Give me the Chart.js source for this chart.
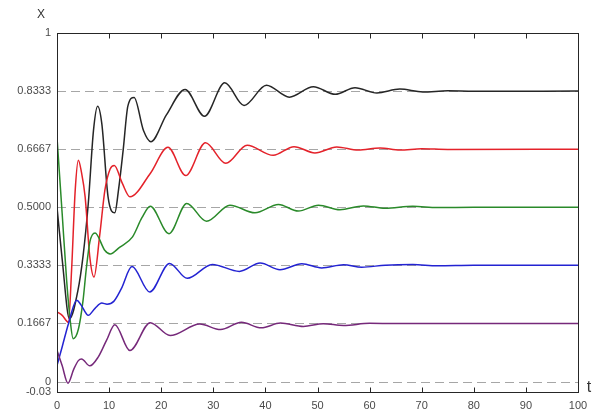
<!DOCTYPE html>
<html>
<head>
<meta charset="utf-8">
<script src="https://cdn.jsdelivr.net/npm/chart.js@4"></script>
<style>
  html, body { margin: 0; padding: 0; background: #fff; }
</style>
</head>
<body>
<canvas id="chart" width="595" height="412"></canvas>
<script>
// values
const tBlack = [0, 1, 2.4, 4, 5, 6, 7, 7.8, 8.6, 9.8, 11.1, 11.8, 12.7, 13.6, 14.8, 16.6, 18, 21, 24.6, 28.3, 32.2, 35.9, 40.2, 44.6, 49.2, 53.4, 57.2, 61.4, 65.8, 70.2, 75, 80, 100];
const xBlack = [0.5, 0.35, 0.18, 0.26, 0.36, 0.51, 0.72, 0.79, 0.74, 0.53, 0.484, 0.549, 0.664, 0.79, 0.815, 0.72, 0.688, 0.765, 0.838, 0.761, 0.857, 0.792, 0.85, 0.816, 0.846, 0.824, 0.843, 0.828, 0.839, 0.831, 0.834, 0.833, 0.8333];

const tRed = [0, 1, 2.2, 2.8, 3.5, 4.1, 4.7, 5.4, 6.3, 7.1, 8.2, 9.2, 10.2, 11, 12.5, 14, 17.9, 21.3, 24.7, 28.5, 32.4, 36.5, 41.5, 45.5, 49.5, 53.7, 57.8, 62, 65.8, 70, 75, 100];
const xRed = [0.2, 0.19, 0.17, 0.32, 0.55, 0.635, 0.6, 0.53, 0.357, 0.30, 0.42, 0.55, 0.61, 0.62, 0.57, 0.53, 0.597, 0.672, 0.591, 0.685, 0.626, 0.678, 0.649, 0.674, 0.656, 0.673, 0.664, 0.670, 0.664, 0.668, 0.666, 0.6667];

const tGreen = [0, 1, 1.85, 2.5, 3.1, 4.1, 5, 5.6, 6.3, 7.3, 9.2, 10.2, 12, 14.5, 16.3, 17.9, 21.5, 24.9, 28.7, 33.2, 38, 42.5, 46.3, 50.2, 54.3, 58.8, 63, 68.3, 73, 80, 100];
const xGreen = [0.70, 0.48, 0.29, 0.18, 0.123, 0.15, 0.233, 0.32, 0.40, 0.426, 0.376, 0.366, 0.385, 0.415, 0.47, 0.503, 0.424, 0.511, 0.46, 0.506, 0.484, 0.508, 0.489, 0.506, 0.493, 0.504, 0.497, 0.503, 0.499, 0.5, 0.5];

const tBlue = [0, 1, 2.2, 3.8, 4.6, 6, 7.3, 8.6, 9.6, 10.9, 12.3, 14.4, 17.8, 21.6, 25, 29.8, 35, 39, 42.8, 47, 50.8, 55, 58.5, 63, 68.3, 73, 80, 100];
const xBlue = [0.046, 0.10, 0.166, 0.233, 0.22, 0.19, 0.21, 0.225, 0.222, 0.23, 0.265, 0.33, 0.257, 0.339, 0.296, 0.336, 0.316, 0.34, 0.321, 0.338, 0.326, 0.335, 0.328, 0.334, 0.336, 0.332, 0.3335, 0.3333];

const tPurple = [0, 1, 2.1, 3.2, 4.1, 4.7, 6.3, 7.9, 9.5, 11.1, 14, 17.9, 21.7, 27.4, 31.4, 35.4, 39.2, 42.9, 47.3, 51.1, 55, 60, 65, 100];
const xPurple = [0.09, 0.045, -0.005, 0.035, 0.06, 0.065, 0.045, 0.07, 0.118, 0.163, 0.089, 0.169, 0.132, 0.165, 0.149, 0.17, 0.154, 0.168, 0.158, 0.166, 0.161, 0.167, 0.1665, 0.1667];

const yTickValues = [-0.03, 0, 0.1667, 0.3333, 0.5, 0.6667, 0.8333, 1];
const yTickLabels = ['-0.03', '0', '0.1667', '0.3333', '0.5000', '0.6667', '0.8333', '1'];
const refLevels = [0, 0.1667, 0.3333, 0.5, 0.6667, 0.8333];
const xTickValues = [0, 10, 20, 30, 40, 50, 60, 70, 80, 90, 100];

const FONT = "'Liberation Sans', Arial, Helvetica, sans-serif";

function pts(ts, vs) {
  return ts.map((t, i) => ({ x: t, y: vs[i] }));
}

function series(ts, vs, color) {
  return {
    data: pts(ts, vs),
    borderColor: color,
    borderWidth: 1.5,
    pointRadius: 0,
    fill: false,
    cubicInterpolationMode: 'monotone',
  };
}

const framePlugin = {
  id: 'frame',
  beforeDatasetsDraw(chart) {
    const { ctx, chartArea: a, scales: { y } } = chart;
    ctx.save();
    ctx.strokeStyle = '#a6a6a6';
    ctx.lineWidth = 1;
    ctx.setLineDash([9, 5]);
    refLevels.forEach((v) => {
      const py = Math.round(y.getPixelForValue(v)) + 0.5;
      ctx.beginPath();
      ctx.moveTo(a.left, py);
      ctx.lineTo(a.right, py);
      ctx.stroke();
    });
    ctx.restore();
  },
  afterDatasetsDraw(chart) {
    const { ctx, chartArea: a, scales: { x } } = chart;
    ctx.save();
    ctx.strokeStyle = '#262626';
    ctx.lineWidth = 1;
    const l = Math.round(a.left) + 0.5;
    const r = Math.round(a.right) + 0.5;
    const t = Math.round(a.top) + 0.5;
    const b = Math.round(a.bottom) + 0.5;
    ctx.strokeRect(l, t, r - l, b - t);
    // inward tick marks on top and bottom
    xTickValues.slice(1, -1).forEach((v) => {
      const px = Math.round(x.getPixelForValue(v)) + 0.5;
      ctx.beginPath();
      ctx.moveTo(px, b);
      ctx.lineTo(px, b - 5);
      ctx.moveTo(px, t);
      ctx.lineTo(px, t + 5);
      ctx.stroke();
    });
    // axis names
    ctx.fillStyle = '#333';
    ctx.textAlign = 'center';
    ctx.textBaseline = 'middle';
    ctx.font = '12px ' + FONT;
    ctx.fillText('X', 41, 15);
    ctx.font = '16px ' + FONT;
    ctx.fillText('t', 589, 388);
    ctx.restore();
  },
};

new Chart(document.getElementById('chart'), {
  type: 'line',
  data: {
    datasets: [
      series(tPurple, xPurple, '#76297a'),
      series(tBlue, xBlue, '#2323d2'),
      series(tGreen, xGreen, '#2a8a2a'),
      series(tRed, xRed, '#e4222a'),
      series(tBlack, xBlack, '#262626'),
    ],
  },
  options: {
    responsive: false,
    animation: false,
    layout: { padding: { left: 0, right: 17, top: 33, bottom: 0 } },
    plugins: { legend: { display: false }, tooltip: { enabled: false } },
    scales: {
      x: {
        type: 'linear',
        min: 0,
        max: 100,
        grid: { display: false, drawTicks: false },
        border: { display: false },
        afterBuildTicks: (axis) => { axis.ticks = xTickValues.map((v) => ({ value: v })); },
        afterFit: (scale) => { scale.height = 20; },
        ticks: {
          autoSkip: false,
          maxRotation: 0,
          padding: 7,
          color: '#4a4a4a',
          font: { family: FONT, size: 11 },
        },
      },
      y: {
        type: 'linear',
        min: -0.03,
        max: 1,
        grid: { display: false, drawTicks: false },
        border: { display: false },
        afterBuildTicks: (axis) => { axis.ticks = yTickValues.map((v) => ({ value: v })); },
        afterFit: (scale) => { scale.width = 57; },
        ticks: {
          autoSkip: false,
          padding: 6,
          color: '#4a4a4a',
          font: { family: FONT, size: 11 },
          callback: (value, index) => yTickLabels[index],
        },
      },
    },
  },
  plugins: [framePlugin],
});
</script>
</body>
</html>
